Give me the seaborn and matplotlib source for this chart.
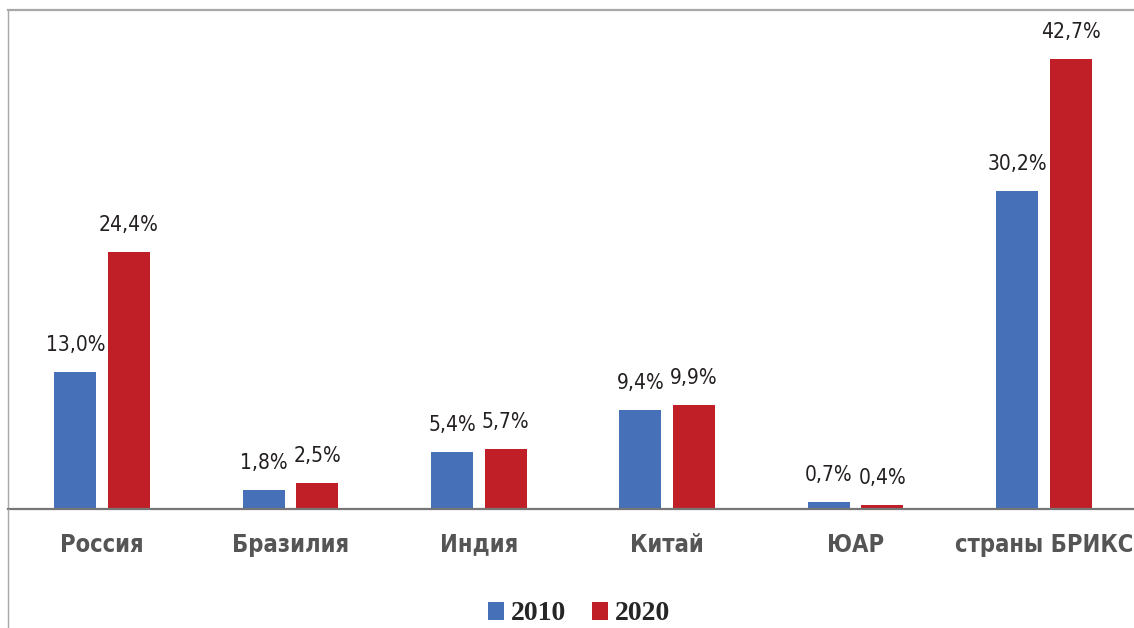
import matplotlib
matplotlib.use("Agg")
import matplotlib.pyplot as plt
from matplotlib.lines import Line2D
from matplotlib.patches import Patch
import pandas as pd
import seaborn as sns

categories = ["Россия", "Бразилия", "Индия", "Китай", "ЮАР", "страны БРИКС"]
years = ["2010", "2020"]
values_2010 = [13.0, 1.8, 5.4, 9.4, 0.7, 30.2]
values_2020 = [24.4, 2.5, 5.7, 9.9, 0.4, 42.7]
colors = ["#4670b8", "#c01f27"]

df = pd.DataFrame({
    "country": categories * 2,
    "year": [years[0]] * len(categories) + [years[1]] * len(categories),
    "value": values_2010 + values_2020,
})

sns.set_style("white")
plt.rcParams["font.family"] = ["DejaVu Sans"]
plt.rcParams["font.stretch"] = "condensed"

fig = plt.figure(figsize=(11.34, 6.28), dpi=100)
W, H = 1134, 628
ax = fig.add_axes([8 / W, 1 - 509 / H, (1138 - 8) / W, (509 - 10) / H])

sns.barplot(data=df, x="country", y="value", hue="year", palette=colors,
            width=0.57, gap=0.22, saturation=1, linewidth=0, legend=False, ax=ax)

# value labels
for cont, vals in zip(ax.containers, [values_2010, values_2020]):
    ax.bar_label(cont, labels=[f"{v:.1f}%".replace(".", ",") for v in vals],
                 padding=12, fontsize=15, color="#231f20", fontstretch="condensed")

ax.set_xlim(-0.5, 5.5)
ax.set_ylim(0, 47.34)
ax.set_xlabel("")
ax.set_ylabel("")
ax.set_yticks([])
ax.tick_params(axis="x", length=0, pad=17)
for lab in ax.get_xticklabels():
    lab.set_fontsize(17)
    lab.set_fontweight("bold")
    lab.set_fontstretch("condensed")
    lab.set_color("#555555")

ax.spines["right"].set_visible(False)
ax.spines["top"].set_color("#a8a8a8")
ax.spines["top"].set_linewidth(1.6)
ax.spines["left"].set_color("#a8a8a8")
ax.spines["left"].set_linewidth(1.0)
ax.spines["bottom"].set_color("#767676")
ax.spines["bottom"].set_linewidth(1.6)

# outer frame continues below the baseline
fig.add_artist(Line2D([8 / W, 8 / W], [0, 1 - 509 / H], color="#a8a8a8", lw=1.0))

handles = [Patch(facecolor=c, edgecolor="none") for c in colors]
fig.legend(handles, years, loc="center", bbox_to_anchor=(579 / W, 1 - 614 / H),
           ncol=2, frameon=False, handlelength=0.6, handleheight=0.6,
           handletextpad=0.25, columnspacing=0.9,
           prop={"family": ["Liberation Serif", "DejaVu Serif"], "weight": "bold",
                 "size": 20, "stretch": "normal"})

fig.savefig("out.png", dpi=100)
